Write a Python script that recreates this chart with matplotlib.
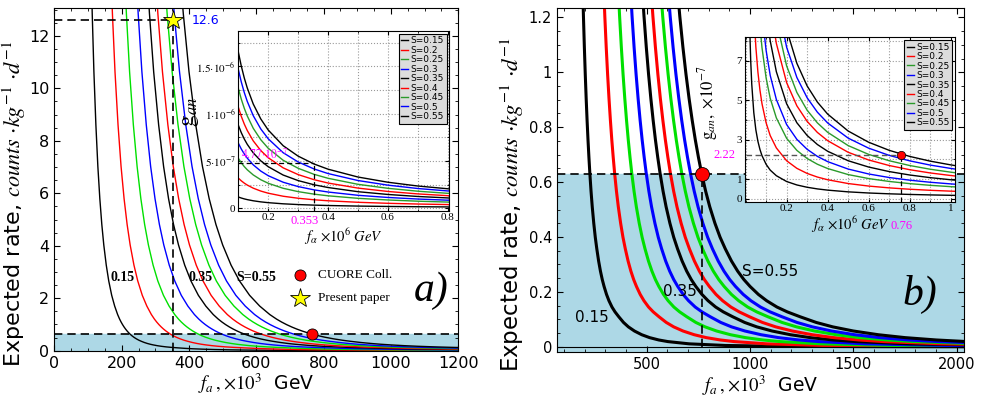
import numpy as np
import matplotlib.pyplot as plt
from matplotlib.ticker import MultipleLocator, FixedLocator, FuncFormatter

plt.rcParams['font.family'] = ['DejaVu Sans']
plt.rcParams['mathtext.fontset'] = 'stix'

# ---------------------------------------------------------------
# data
# ---------------------------------------------------------------
S_vals = [0.15, 0.2, 0.25, 0.3, 0.35, 0.4, 0.45, 0.5, 0.55]
S_labels = ['S=%g' % s for s in S_vals]

# f_a (x10^3 GeV) where each S curve crosses the CUORE level
f_cross = [225, 345, 428, 498, 565, 615, 670, 712, 766]

# reference curve (S=0.55) of the main panels: f_a (x10^3 GeV) -> rate
ref_f = [370, 383, 400, 420, 440, 460, 480, 500, 525, 550, 580, 610, 640, 660,
         675, 690, 705, 720, 735, 750, 766, 785, 805, 830, 855, 880, 910, 940,
         970, 1000, 1040, 1080, 1130, 1180, 1242, 1320, 1400, 1500, 1620, 1750,
         1900, 2050, 2400, 3000, 4000, 5500, 7000]
ref_rate = [14.93, 12.85, 10.63, 8.61, 7.02, 5.79, 4.81, 4.03, 3.26, 2.66,
            2.11, 1.70, 1.377, 1.204, 1.092, 0.9925, 0.904, 0.825, 0.754,
            0.691, 0.63, 0.567, 0.510, 0.450, 0.399, 0.357, 0.3125, 0.2756,
            0.245, 0.2198, 0.191, 0.168, 0.1449, 0.1273, 0.1095, 0.0888,
            0.0727, 0.0576, 0.0441, 0.0335, 0.025, 0.0191, 0.0109, 0.00495,
            0.00178, 0.000576, 0.0003]

cuore_f, cuore_rate = 766, 0.63
paper_f, paper_rate = 353, 12.6

# inset a: g_an (x10^-6) vs f_alpha (x10^6 GeV), reference S=0.55
ga_f = [0.1, 0.11, 0.12, 0.13, 0.15, 0.175, 0.2, 0.25, 0.3, 0.353, 0.4, 0.5,
        0.6, 0.7, 0.8, 0.81]
ga_ref = [1.655, 1.505, 1.379, 1.273, 1.103, 0.946, 0.828, 0.662, 0.552,
          0.469, 0.414, 0.331, 0.276, 0.236, 0.207, 0.204]
ga_start = [0.12, 0.32, 0.53, 0.69, 0.88, 1.07, 1.27, 1.47, 1.655]  # at f=0.1
ga_mark_f, ga_mark_g = 0.353, 0.477

# inset b: g_an (x10^-7) vs f_alpha (x10^6 GeV), reference S=0.55
gb_f = [0.02, 0.025, 0.03, 0.04, 0.05, 0.06, 0.07, 0.08, 0.1, 0.12, 0.15, 0.2,
        0.25, 0.3, 0.35, 0.4, 0.5, 0.6, 0.7, 0.8, 0.9, 1.0, 1.03]
gb_ref = [86, 68.8, 57.3, 43, 34.4, 28.7, 24.6, 21.5, 17.2, 14.3, 11.5, 8.6,
          6.88, 5.73, 4.91, 4.3, 3.44, 2.87, 2.46, 2.15, 1.91, 1.72, 1.67]
gb_end = [0.175, 0.386, 0.614, 0.754, 0.965, 1.18, 1.35, 1.54, 1.72]  # at f=1
gb_mark_f, gb_mark_g = 0.76, 2.22

col_main = ['black', 'red', '#00e000', 'blue'] * 2 + ['black']
col_inset = ['black', 'red', '#2a9a2a', 'blue'] * 2 + ['black']

serif = 'Liberation Serif'
band = '#add8e6'


def fmt_g(v, pos):
    return '%g' % v


def main_ticks(ax, size):
    ax.tick_params(which='both', direction='in', top=True, right=True,
                   labelsize=size)
    ax.tick_params(which='major', length=4)
    ax.tick_params(which='minor', length=2)


def inset_ticks(ax):
    ax.tick_params(which='both', direction='in', top=True, right=True,
                   labelsize=8, pad=2)
    ax.tick_params(which='major', length=3)
    ax.tick_params(which='minor', length=1.5)
    for lab in ax.get_xticklabels() + ax.get_yticklabels():
        lab.set_fontfamily(serif)


def inset_legend(ax):
    leg = ax.legend(loc='upper right', fontsize=6.5, handlelength=0.7,
                    handletextpad=0.3, labelspacing=0.05, borderpad=0.3,
                    borderaxespad=0.3, fancybox=False, framealpha=1,
                    facecolor='#dcdcdc', edgecolor='black')
    leg.get_frame().set_linewidth(0.8)


fig = plt.figure(figsize=(9.81, 3.99), dpi=100)

ylabel_main = r'Expected rate, $counts\ {\cdot}kg^{-1}\ {\cdot}d^{-1}$'
xlabel_main = r'$f_a\,,{\times}10^3$  GeV'

# ---------------------------------------------------------------
# panel a
# ---------------------------------------------------------------
axa = fig.add_axes([0.0554, 0.1211, 0.4118, 0.8581])
axa.axhspan(0, cuore_rate, color=band, zorder=0)
for fc, c in zip(f_cross, col_main):
    axa.plot(np.array(ref_f) * fc / cuore_f, ref_rate, color=c, lw=1.0)
axa.axhline(cuore_rate, color='black', ls='--', lw=1.2, dashes=(5, 3))
axa.plot([0, paper_f], [paper_rate, paper_rate], color='black', ls='--',
         lw=1.2, dashes=(5, 3))
axa.plot([paper_f, paper_f], [0, paper_rate], color='black', ls='--',
         lw=1.2, dashes=(5, 3))
axa.plot(cuore_f, cuore_rate, 'o', ms=8, mfc='red', mec='black', mew=0.6,
         zorder=5)
axa.plot(paper_f, paper_rate, '*', ms=15, mfc='yellow', mec='black',
         mew=0.6, zorder=5)
axa.text(paper_f + 55, paper_rate, '12.6', color='blue', fontsize=9,
         va='center')
for x, y, t in [(203, 2.8, '0.15'), (435, 2.8, '0.35'), (600, 2.8, 'S=0.55')]:
    axa.text(x, y, t, fontfamily=serif, fontweight='bold', fontsize=10,
             ha='center', va='center')
axa.plot(731, 2.87, 'o', ms=8, mfc='red', mec='black', mew=0.6)
axa.plot(731, 2.0, '*', ms=15, mfc='yellow', mec='black', mew=0.6)
axa.text(783, 2.87, 'CUORE Coll.', fontfamily=serif, fontsize=9.5,
         va='center')
axa.text(783, 2.0, 'Present paper', fontfamily=serif, fontsize=9.5,
         va='center')
axa.text(1120, 2.3, 'a)', fontfamily=serif, fontstyle='italic', fontsize=30,
         ha='center', va='center')
axa.set_xlim(0, 1200)
axa.set_ylim(0, 13.05)
axa.xaxis.set_major_locator(MultipleLocator(200))
axa.xaxis.set_minor_locator(MultipleLocator(50))
axa.yaxis.set_major_locator(MultipleLocator(2))
axa.yaxis.set_minor_locator(MultipleLocator(0.5))
main_ticks(axa, 11.5)
axa.set_xlabel(xlabel_main, fontsize=13.5, labelpad=1)
axa.set_ylabel(ylabel_main, fontsize=16)
axa.yaxis.set_label_coords(-0.064, 0.43)

# inset a
ia = fig.add_axes([0.2429, 0.4719, 0.2151, 0.4504])
for g0, c, lab in zip(ga_start, col_inset, S_labels):
    ia.plot(ga_f, np.array(ga_ref) * g0 / ga_start[-1], color=c, lw=1.0,
            label=lab)
ia.plot([0.1, ga_mark_f], [ga_mark_g, ga_mark_g], color='black', ls='--',
        lw=0.9, dashes=(4, 2.5))
ia.plot([ga_mark_f, ga_mark_f], [-0.025, ga_mark_g], color='black', ls='--',
        lw=0.9, dashes=(4, 2.5))
ia.text(0.188, 0.49, r'$4.77{\cdot}10^{-7}$', color='magenta', fontsize=8.5,
        ha='center', va='bottom')
ia.set_xlim(0.1, 0.805)
ia.set_ylim(-0.025, 1.875)
ia.xaxis.set_major_locator(FixedLocator([0.2, 0.4, 0.6, 0.8]))
ia.xaxis.set_minor_locator(MultipleLocator(0.1))
ia.xaxis.set_major_formatter(FuncFormatter(fmt_g))
ia.yaxis.set_major_locator(FixedLocator([0, 0.5, 1.0, 1.5]))
ia.yaxis.set_minor_locator(MultipleLocator(0.25))
ia.set_yticklabels(['0', r'$5{\cdot}10^{-7}$', r'$1{\cdot}10^{-6}$',
                    r'$1.5{\cdot}10^{-6}$'])
ia.grid(which='both', color='#999999', ls=':', lw=0.8)
inset_ticks(ia)
ia.text(0.322, -0.075, '0.353', color='magenta', fontfamily=serif,
        fontsize=9, ha='center', va='top')
ia.set_xlabel(r'$f_\alpha\ {\times}10^6\ GeV$', fontsize=10.5, labelpad=3)
ia.set_ylabel(r'$\mathrm{g}_{an}$', fontsize=17)
ia.yaxis.set_label_coords(-0.175, 0.55)
inset_legend(ia)

# ---------------------------------------------------------------
# panel b
# ---------------------------------------------------------------
axb = fig.add_axes([0.5678, 0.117, 0.4149, 0.8622])
axb.axhspan(-0.02, cuore_rate, color=band, zorder=0)
for fc, c in zip(f_cross, col_main):
    axb.plot(np.array(ref_f) * fc / cuore_f, ref_rate, color=c, lw=2.2)
axb.axhline(0, color='black', lw=0.8)
axb.axhline(cuore_rate, color='black', ls='--', lw=1.2, dashes=(5, 3))
axb.plot([cuore_f, cuore_f], [0, cuore_rate], color='black', ls='--',
         lw=1.2, dashes=(5, 3))
axb.plot(cuore_f, cuore_rate, 'o', ms=10, mfc='red', mec='black', mew=0.6,
         zorder=5)
axb.text(233, 0.105, '0.15', fontsize=11, ha='center', va='center')
axb.text(659, 0.2, '0.35', fontsize=11, ha='center', va='center')
axb.text(1098, 0.273, 'S=0.55', fontsize=11, ha='center', va='center')
axb.text(1820, 0.19, 'b)', fontfamily=serif, fontstyle='italic', fontsize=30,
         ha='center', va='center')
axb.set_xlim(66, 2035)
axb.set_ylim(-0.02, 1.233)
axb.xaxis.set_major_locator(MultipleLocator(500))
axb.xaxis.set_minor_locator(MultipleLocator(100))
axb.yaxis.set_major_locator(MultipleLocator(0.2))
axb.yaxis.set_minor_locator(MultipleLocator(0.05))
axb.yaxis.set_major_formatter(FuncFormatter(fmt_g))
main_ticks(axb, 10.5)
axb.set_xlabel(xlabel_main, fontsize=13.5, labelpad=1)
axb.set_ylabel(ylabel_main, fontsize=16.5)
axb.yaxis.set_label_coords(-0.075, 0.43)

# inset b
ib = fig.add_axes([0.7594, 0.4945, 0.2141, 0.412])
for g1, c, lab in zip(gb_end, col_inset, S_labels):
    ib.plot(gb_f, np.array(gb_ref) * g1 / gb_end[-1], color=c, lw=1.0,
            label=lab)
ib.plot([0, gb_mark_f], [gb_mark_g, gb_mark_g], color='#555555', ls='--',
        lw=1.0, dashes=(4, 2.5))
ib.plot([gb_mark_f, gb_mark_f], [-0.15, gb_mark_g], color='black', ls='--',
        lw=0.9, dashes=(4, 2.5))
ib.plot(gb_mark_f, gb_mark_g, 'o', ms=6, mfc='red', mec='black', mew=0.5,
        zorder=5)
ib.set_xlim(-0.003, 1.021)
ib.set_ylim(-0.15, 8.2)
ib.xaxis.set_major_locator(FixedLocator([0.2, 0.4, 0.6, 0.8, 1.0]))
ib.xaxis.set_minor_locator(MultipleLocator(0.1))
ib.xaxis.set_major_formatter(FuncFormatter(fmt_g))
ib.yaxis.set_major_locator(FixedLocator([0, 1, 3, 5, 7]))
ib.yaxis.set_minor_locator(MultipleLocator(1))
ib.yaxis.set_major_formatter(FuncFormatter(fmt_g))
ib.grid(which='both', color='#999999', ls=':', lw=0.8)
inset_ticks(ib)
ib.text(-0.05, gb_mark_g, '2.22', color='magenta', fontfamily=serif,
        fontsize=9, ha='right', va='center')
ib.text(gb_mark_f, -1.1, '0.76', color='magenta', fontfamily=serif,
        fontsize=9, ha='center', va='top')
ib.set_xlabel(r'$f_\alpha\ {\times}10^6\ GeV$', fontsize=10.5, labelpad=1)
ib.set_ylabel(r'$\mathrm{g}_{an},\ {\times}10^{-7}$', fontsize=12)
ib.yaxis.set_label_coords(-0.12, 0.6)
inset_legend(ib)

fig.savefig('out.png', dpi=100)
